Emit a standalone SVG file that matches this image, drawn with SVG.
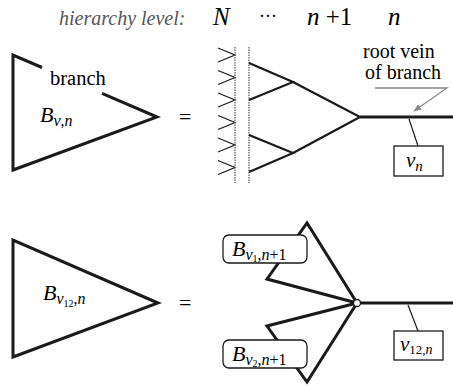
<svg xmlns="http://www.w3.org/2000/svg" width="453" height="386" viewBox="0 0 453 386">
<style>
text{font-family:'Liberation Serif','DejaVu Serif',serif}
.it{font-style:italic}
.tri{fill:none;stroke:#1a1a1a;stroke-width:3;stroke-linejoin:miter}
.br{fill:none;stroke:#1a1a1a;stroke-width:2.2}
.thin{fill:none;stroke:#1a1a1a;stroke-width:1.2}
.dot{fill:none;stroke:#555;stroke-width:1.2;stroke-dasharray:1.5 1}
.box{fill:#fff;stroke:#1a1a1a;stroke-width:1.3}
</style>
<defs>
<marker id="ga" viewBox="0 0 10 10" refX="9" refY="5" markerWidth="8" markerHeight="8" orient="auto" markerUnits="userSpaceOnUse">
<path d="M0,1 L10,5 L0,9 Z" fill="#888"/>
</marker>
</defs>

<g id="header">
<text class="it" x="59" y="25" font-size="20" fill="#555">hierarchy level:</text>
<text class="it" x="213" y="25" font-size="25">N</text>
<text x="259" y="22" font-size="18">···</text>
<text x="307" y="25" font-size="25"><tspan class="it">n</tspan> +1</text>
<text class="it" x="388" y="25" font-size="25">n</text>
</g>

<g id="branch-top">
<polyline class="tri" points="42,67.5 13,55 13,170 157,117 102,93.3"/>
<text x="50" y="85" font-size="20.5">branch</text>
<text class="it" x="40" y="122" font-size="22">B<tspan font-size="16" dy="4">v</tspan><tspan font-size="16" font-style="normal">,</tspan><tspan font-size="16">n</tspan></text>
</g>

<g id="eq-top"><text x="179" y="124" font-size="22">=</text></g>

<g id="chevrons">
<polyline class="thin" points="218,48 235,55 218,62"/>
<polyline class="thin" points="218,70.5 235,77.5 218,84.5"/>
<polyline class="thin" points="218,93 235,100 218,107"/>
<polyline class="thin" points="218,115.5 235,122.5 218,129.5"/>
<polyline class="thin" points="218,138 235,145 218,152"/>
<polyline class="thin" points="218,160.5 235,167.5 218,174.5"/>
<line class="dot" x1="235" y1="47" x2="235" y2="183"/>
<line class="dot" x1="249" y1="47" x2="249" y2="183"/>
</g>

<g id="tree">
<polyline class="br" points="249,63 293,82 249,100"/>
<polyline class="br" points="249,135 293,153 249,172"/>
<polyline class="br" points="293,82 360,117 293,153"/>
</g>

<g id="root-top">
<line x1="360" y1="117" x2="453" y2="117" stroke="#1a1a1a" stroke-width="3"/>
</g>

<g id="root-label">
<text x="363" y="58" font-size="20">root vein</text>
<text x="365" y="79" font-size="20">of branch</text>
<polyline points="375,88 447,88 414,111" fill="none" stroke="#888" stroke-width="1.3" marker-end="url(#ga)"/>
</g>

<g id="vn">
<line class="thin" x1="409" y1="119" x2="418" y2="146"/>
<rect class="box" x="394" y="146" width="49" height="30"/>
<text class="it" x="406" y="167" font-size="21">v<tspan font-size="15" dy="4">n</tspan></text>
</g>

<g id="branch-bottom">
<polygon class="tri" points="13,240 13,357 158,303"/>
<text class="it" x="43" y="300" font-size="22">B<tspan font-size="16" dy="4">v</tspan><tspan font-size="10" dy="3" font-style="normal">12</tspan><tspan font-size="16" dy="-3" font-style="normal">,</tspan><tspan font-size="16">n</tspan></text>
</g>

<g id="eq-bottom"><text x="179" y="310" font-size="22">=</text></g>

<g id="sub-branches">
<polygon class="tri" points="357,303 307,223 267,279"/>
<polygon class="tri" points="357,303 267,326 307,382"/>
<circle cx="357" cy="303" r="3.5" fill="#fff" stroke="#1a1a1a" stroke-width="1.3"/>
</g>

<g id="label-b1">
<rect class="box" x="223" y="235" width="84" height="28" rx="6"/>
<text class="it" x="232" y="256" font-size="22">B<tspan font-size="16" dy="4">v</tspan><tspan font-size="10" dy="2" font-style="normal">1</tspan><tspan font-size="16" dy="-2" font-style="normal">,</tspan><tspan font-size="16">n</tspan><tspan font-size="16" font-style="normal">+1</tspan></text>
</g>

<g id="label-b2">
<rect class="box" x="223" y="340" width="84" height="28" rx="6"/>
<text class="it" x="232" y="361" font-size="22">B<tspan font-size="16" dy="4">v</tspan><tspan font-size="10" dy="2" font-style="normal">2</tspan><tspan font-size="16" dy="-2" font-style="normal">,</tspan><tspan font-size="16">n</tspan><tspan font-size="16" font-style="normal">+1</tspan></text>
</g>

<g id="root-bottom">
<line x1="360.5" y1="303" x2="453" y2="303" stroke="#1a1a1a" stroke-width="3"/>
<line class="thin" x1="408" y1="305" x2="418" y2="331"/>
<rect class="box" x="394" y="331" width="49" height="29"/>
<text class="it" x="400" y="351" font-size="21">v<tspan font-size="13" dy="3" font-style="normal">12,</tspan><tspan font-size="14">n</tspan></text>
</g>
</svg>
